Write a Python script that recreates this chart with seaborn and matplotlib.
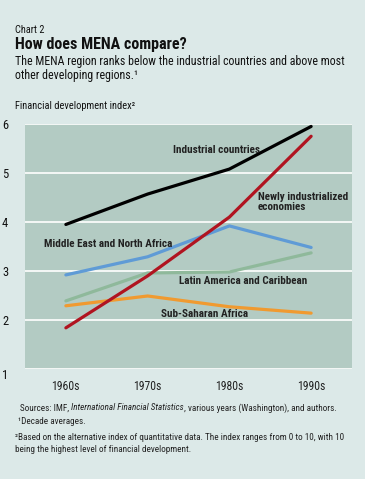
import seaborn as sns
import pandas as pd
import matplotlib.pyplot as plt

decades = ["1960s", "1970s", "1980s", "1990s"]
industrial = [3.95, 4.57, 5.08, 5.95]
newly_ind = [1.84, 2.90, 4.10, 5.75]
mena = [2.92, 3.29, 3.92, 3.48]
latin = [2.39, 2.96, 2.98, 3.37]
ssa = [2.29, 2.49, 2.27, 2.14]

series = {
    "Industrial countries": industrial,
    "Newly industrialized economies": newly_ind,
    "Middle East and North Africa": mena,
    "Latin America and Caribbean": latin,
    "Sub-Saharan Africa": ssa,
}
colors = {
    "Industrial countries": "#000000",
    "Newly industrialized economies": "#b01420",
    "Middle East and North Africa": "#5f9bd6",
    "Latin America and Caribbean": "#8fb99b",
    "Sub-Saharan Africa": "#f09a30",
}
# drawing order: lower lines first
order = ["Sub-Saharan Africa", "Latin America and Caribbean",
         "Middle East and North Africa", "Industrial countries",
         "Newly industrialized economies"]

rows = []
for name, vals in series.items():
    for i, (d, v) in enumerate(zip(decades, vals)):
        rows.append({"region": name, "pos": i, "decade": d, "index": v})
data = pd.DataFrame(rows)

sns.set_theme(style="white")
plt.rcParams["font.family"] = ["Roboto Condensed", "DejaVu Sans"]

bg = "#dce9e8"
fig = plt.figure(figsize=(3.65, 4.79), dpi=100, facecolor=bg)
ax = fig.add_axes([25 / 365, 1 - 369 / 479, 327 / 365, 245 / 479])
ax.set_facecolor("#b3cbc3")

sns.lineplot(data=data, x="pos", y="index", hue="region", hue_order=order,
             palette=colors, linewidth=2.3, legend=False, ax=ax)

ax.set_xlim(-0.5, 3.5)
ax.set_ylim(1, 6)
ax.set_yticks([1, 2, 3, 4, 5, 6])
ax.yaxis.grid(True, color="white", linewidth=1.2)
ax.set_axisbelow(True)
ax.set_xticks(range(4))
ax.set_xticklabels(decades)
ax.set_xticks([-0.5, 0.5, 1.5, 2.5, 3.5], minor=True)
ax.tick_params(axis="x", which="major", length=0, pad=8, labelsize=8.5, colors="#222222")
ax.tick_params(axis="x", which="minor", direction="in", length=6, width=1, color="#555555")
ax.tick_params(axis="y", length=0, pad=12, labelsize=9, colors="#111111")
ax.yaxis.get_majorticklabels()[0].set_va("top")
for s in ax.spines.values():
    s.set_visible(False)
ax.set_xlabel("")
ax.set_ylabel("")

lab = dict(fontsize=8, fontweight="bold", color="#222222", va="center", ha="left")
ax.text(1.31, 5.46, "Industrial countries", **lab)
ax.text(2.35, 4.41, "Newly industrialized\neconomies", linespacing=1.0, **lab)
ax.text(-0.27, 3.55, "Middle East and North Africa", **lab)
ax.text(1.38, 2.80, "Latin America and Caribbean", **lab)
ax.text(1.16, 2.12, "Sub-Saharan Africa", **lab)


def fy(py):
    return 1 - py / 479


fig.text(15 / 365, fy(30), "Chart 2", fontsize=7.5, va="center", color="#111111")
fig.text(15 / 365, fy(44), "How does MENA compare?", fontsize=11.5, fontweight="bold",
         va="center", color="#111111")
fig.text(15 / 365, fy(62), "The MENA region ranks below the industrial countries and above most",
         fontsize=8.6, va="center", color="#111111")
fig.text(15 / 365, fy(75), "other developing regions.\u00b9", fontsize=8.6, va="center", color="#111111")
fig.text(15 / 365, fy(106), "Financial development index\u00b2", fontsize=7.5, va="center",
         color="#111111")

# sources line with italic title
renderer = fig.canvas.get_renderer()
x0 = 20 / 365
parts = [("Sources: IMF, ", "normal"), ("International Financial Statistics", "italic"),
         (", various years (Washington), and authors.", "normal")]
for txt, st in parts:
    t = fig.text(x0, fy(408), txt, fontsize=6.6, style=st, va="center", color="#222222")
    bb = t.get_window_extent(renderer)
    x0 += bb.width / fig.bbox.width
fig.text(18 / 365, fy(422), "\u00b9Decade averages.", fontsize=6.6, va="center", color="#222222")
fig.text(15 / 365, fy(437), "\u00b2Based on the alternative index of quantitative data. The index ranges from 0 to 10, with 10",
         fontsize=6.6, va="center", color="#222222")
fig.text(15 / 365, fy(449), "being the highest level of financial development.",
         fontsize=6.6, va="center", color="#222222")

fig.savefig("out.png", dpi=100, facecolor=bg)
